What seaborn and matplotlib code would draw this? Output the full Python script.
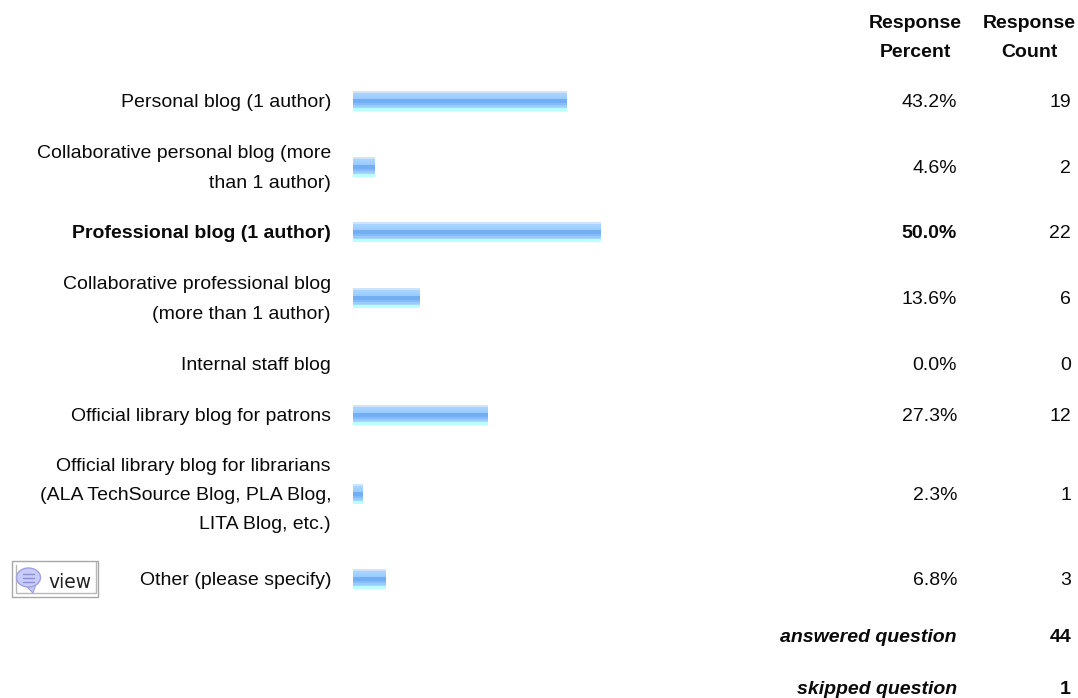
import matplotlib
matplotlib.use("Agg")
import matplotlib.pyplot as plt
import numpy as np
import pandas as pd
import seaborn as sns
from matplotlib.colors import to_rgb
from matplotlib.patches import Rectangle, Ellipse, Polygon

categories = ["Personal blog (1 author)",
              "Collaborative personal blog (more\nthan 1 author)",
              "Professional blog (1 author)",
              "Collaborative professional blog\n(more than 1 author)",
              "Internal staff blog",
              "Official library blog for patrons",
              "Official library blog for librarians\n(ALA TechSource Blog, PLA Blog,\nLITA Blog, etc.)",
              "Other (please specify)"]
percents = [43.2, 4.6, 50.0, 13.6, 0.0, 27.3, 2.3, 6.8]
counts = [19, 2, 22, 6, 0, 12, 1, 3]
rows = [101, 167, 232, 298, 364, 415, 494, 579]
bold_index = 2
summary = [("answered question", 44), ("skipped question", 1)]
stripes = ["#cce5ff", "#cce5ff", "#a6d3ff", "#a6d3ff", "#a3d1ff", "#a3d1ff", "#9ccbff", "#9ccbff",
           "#72aef2", "#72aef2", "#72aef2", "#72aef2", "#85bcf8", "#85bcf8", "#9ccbff", "#9ccbff",
           "#a6d6ff", "#b8ffff", "#b8ffff", "#b8ffff"]

W, H = 1078, 698
plt.rcParams["font.family"] = ["Liberation Sans", "DejaVu Sans"]
sns.set_theme(style="white", rc={"font.family": ["Liberation Sans", "DejaVu Sans"]})
fig = plt.figure(figsize=(W / 100, H / 100), dpi=100, facecolor="white")
ax = fig.add_axes([0, 0, 1, 1])

PX_PER_PCT = 4.98
PX_TRIM = 1.5
X0 = 353
BAR_H = 20
df = pd.DataFrame({"row": rows, "percent": percents})
df["width_px"] = (df["percent"] * PX_PER_PCT - PX_TRIM).clip(lower=0)
spacing = np.min(np.diff(rows))
sns.barplot(data=df, x="width_px", y="row", orient="y", native_scale=True,
            width=BAR_H / spacing, color="#85bcf8", left=X0, saturation=1, ax=ax, linewidth=0)
ax.set_xlim(0, W)
ax.set_ylim(H, 0)
ax.axis("off")

grad = np.array([[to_rgb(c)] for c in stripes])
for p in list(ax.patches):
    x, y, w, h = p.get_x(), p.get_y(), p.get_width(), p.get_height()
    if w <= 0:
        continue
    ax.imshow(grad, extent=(x, x + w, y + h, y), aspect="auto",
              interpolation="nearest", origin="upper", zorder=3)
ax.set_xlim(0, W)
ax.set_ylim(H, 0)

FS = 14.0
LS = 1.93
DY = 1.5
TC = "#0a0a0a"
for i, (c, pct, n, r) in enumerate(zip(categories, percents, counts, rows)):
    fw = "bold" if i == bold_index else "normal"
    ax.text(331, r + DY, c, ha="right", va="center", fontsize=FS, color=TC,
            fontweight=fw, linespacing=LS, multialignment="right")
    ax.text(957, r + DY, f"{pct:.1f}%", ha="right", va="center", fontsize=FS, color=TC, fontweight=fw)
    ax.text(1071, r + DY, str(n), ha="right", va="center", fontsize=FS, color=TC)

ax.text(915, 38, "Response\nPercent", ha="center", va="center", fontsize=FS,
        fontweight="bold", color=TC, linespacing=LS)
ax.text(1029, 38, "Response\nCount", ha="center", va="center", fontsize=FS,
        fontweight="bold", color=TC, linespacing=LS)

for (lab, n), y in zip(summary, [638, 690]):
    ax.text(957, y, lab, ha="right", va="center", fontsize=FS, fontweight="bold",
            fontstyle="italic", color=TC)
    ax.text(1071, y, str(n), ha="right", va="center", fontsize=FS, fontweight="bold", color=TC)

# "view" button
ax.add_patch(Rectangle((11.5, 560.5), 86, 36, fill=False, ec="#a8a8a8", lw=1, zorder=4))
ax.plot([15.5, 15.5, 95.5, 95.5], [565, 592.5, 592.5, 562], color="#b8b8b8", lw=1, zorder=4)
ax.add_patch(Polygon([[24, 584], [36, 584], [33, 593]], fc="#c4c8f4", ec="#a0a0e0", lw=0.8, zorder=5))
ax.add_patch(Ellipse((28.5, 577.5), 24, 19, fc="#c8ccf8", ec="#a0a0e0", lw=1, zorder=5))
for yy in (573.5, 577.5, 581.5):
    ax.plot([23, 34], [yy, yy], color="#8c90d0", lw=1, zorder=6)
ax.text(48, 583, "view", ha="left", va="center", fontsize=13.5, color="#222222",
        family=["DejaVu Sans"], zorder=6)

fig.savefig("out.png", dpi=100, facecolor="white")
